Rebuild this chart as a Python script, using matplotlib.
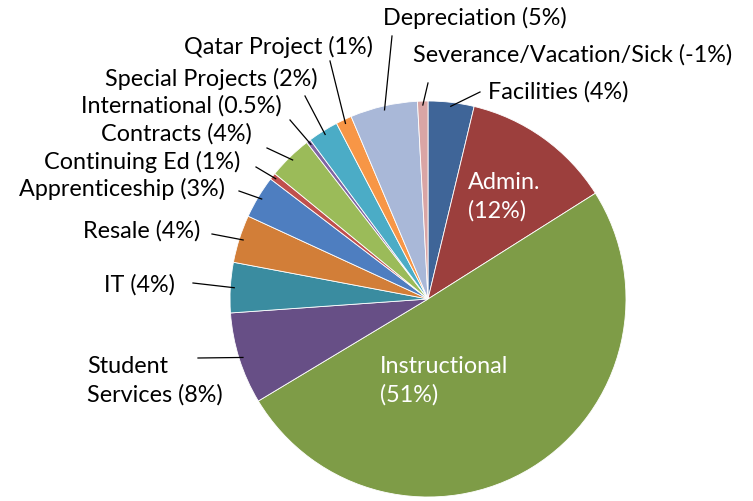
import numpy as np
import matplotlib
matplotlib.use("Agg")
import matplotlib.pyplot as plt

plt.rcParams['font.family'] = ['Lato', 'DejaVu Sans']

# slices, clockwise from 12 o'clock
names = ['Facilities (4%)', 'Admin.\n(12%)', 'Instructional\n(51%)', 'Student\nServices (8%)',
         'IT (4%)', 'Resale (4%)', 'Apprenticeship (3%)', 'Continuing Ed (1%)',
         'Contracts (4%)', 'International (0.5%)', 'Special Projects (2%)',
         'Qatar Project (1%)', 'Depreciation (5%)', 'Severance/Vacation/Sick (-1%)']
values = [3.75, 12.3, 50.4, 7.5, 4.1, 3.9, 3.5, 0.55, 3.6, 0.35, 2.5, 1.3, 5.5, 0.85]
colors = ['#3F6598', '#9C3F3D', '#7E9C47', '#674F86', '#3A8CA0', '#D27E38', '#4E7EC0',
          '#C0504D', '#9BBB59', '#8064A2', '#4BACC6', '#F79646', '#A9B8D8', '#D9A5A5']

# label anchor (x, y in pixels from top-left), alignment
label_pos = [(488, 92, 'left'), (468, 197, 'left'), (380, 381, 'left'), (87, 381, 'left'),
             (175, 285, 'right'), (200, 231, 'right'), (225, 189, 'right'), (240, 162, 'right'),
             (252, 134, 'right'), (282, 106, 'right'), (318, 79, 'right'),
             (373, 47, 'right'), (383, 18, 'left'), (413, 55, 'left')]
# where each leader line starts (pixels), None for labels drawn inside
line_start = [(480, 93), None, None, (198, 359), (193, 284), (212, 235), (239, 192),
              (256, 168), (267, 149), (290, 121), (305, 97), (330, 62), (392, 37), (428, 84)]

W, H = 753, 502
fig = plt.figure(figsize=(W / 100, H / 100), dpi=100)
ax = fig.add_axes([0, 0, 1, 1])

cx, cy, R = 428, H - 300, 198
wedges, _ = ax.pie(values, colors=colors, startangle=90, counterclock=False,
                   center=(cx, cy), radius=R, frame=True,
                   wedgeprops=dict(linewidth=0.6, edgecolor='white'))
ax.set_xlim(0, W)
ax.set_ylim(0, H)
ax.set_aspect('equal')
ax.axis('off')

for i, w in enumerate(wedges):
    x, y, ha = label_pos[i]
    inside = line_start[i] is None
    ax.text(x, H - y, names[i], ha=ha, va='center', fontsize=16.8,
            color='white' if inside else 'black', linespacing=1.38)
    if not inside:
        mid = np.deg2rad((w.theta1 + w.theta2) / 2)
        ex, ey = cx + R * 0.98 * np.cos(mid), cy + R * 0.98 * np.sin(mid)
        sx, sy = line_start[i]
        ax.plot([sx, ex], [H - sy, ey], color='black', lw=0.9)

fig.savefig('out.png', dpi=100)
